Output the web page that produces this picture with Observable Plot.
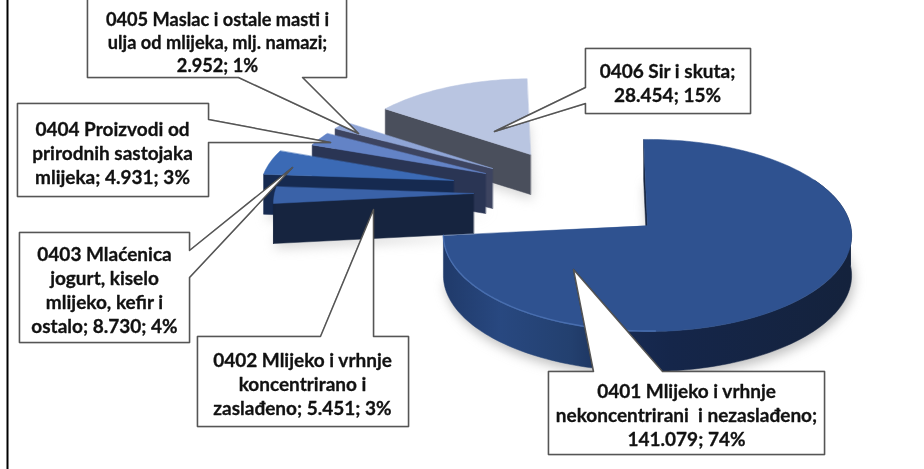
<!DOCTYPE html>
<html>
<head>
<meta charset="utf-8">
<script src="https://cdn.jsdelivr.net/npm/d3@7"></script>
<script src="https://cdn.jsdelivr.net/npm/@observablehq/plot@0.6"></script>
<style>
html,body{margin:0;padding:0;background:#fff}
svg{display:block}
</style>
</head>
<body>
<div id="chart"></div>
<script>
// data
const codes = ["0401", "0402", "0403", "0404", "0405", "0406"];
const values = [141079, 5451, 8730, 4931, 2952, 28454];
const labels = [
  "0401 Mlijeko i vrhnje\nnekoncentrirani  i nezaslađeno;\n141.079; 74%",
  "0402 Mlijeko i vrhnje\nkoncentrirano i\nzaslađeno; 5.451; 3%",
  "0403 Mlaćenica\njogurt, kiselo\nmlijeko, kefir i\nostalo; 8.730; 4%",
  "0404 Proizvodi od\nprirodnih sastojaka\nmlijeka; 4.931; 3%",
  "0405 Maslac i ostale masti i\nulja od mlijeka, mlj. namazi;\n2.952; 1%",
  "0406 Sir i skuta;\n28.454; 15%"
];

// styling and layout (not data)
const topColors = ["#2f5290", "#3a62a8", "#3b6ab5", "#6383c6", "#8fa5d6", "#b9c5e1"];
const sideColors = ["url(#rim)", "#16243f", "#162a50", "#2a3554", "#3d4460", "#4a4f5c"];
const apexes = [[647, 225], [473, 193], [453, 180], [485, 173], [492, 168], [530, 154]];
const radiiX = [1, 0.98, 0.945, 0.945, 0.94, 0.93];
const radiiY = [1, 0.98, 0.92, 0.89, 0.89, 0.88];
const startAngle = -1.2, RX = 203, RY = 95, K = 0.104, DEPTH = 40;
const rimStops = [[443, "#203a6a"], [500, "#284880"], [570, "#23406f"], [625, "#172a52"], [670, "#15264a"], [851, "#14223c"]];
const callouts = [
  {box: [548, 371, 824, 454], tail: [[593, 371], [573, 269], [662, 371]], side: "top"},
  {box: [197, 336, 408, 426], tail: [[320, 336], [373, 209], [373, 336]], side: "top"},
  {box: [19, 232, 189, 342], tail: [[189, 250], [292, 167], [189, 277]], side: "right"},
  {box: [17, 103, 208, 196], tail: [[208, 119], [330, 142], [208, 142]], side: "right"},
  {box: [87, -2, 346, 77], tail: [[302, 77], [358, 133], [238, 77]], side: "bottom"},
  {box: [585, 48, 750, 113], tail: [[585, 103], [494, 131], [585, 87]], side: "left"}
];
const textCenters = [[686, 413.5], [302, 382.5], [104, 289], [112, 151.5], [217, 41], [667, 82]];
const textSizes = [19, 19, 19, 19, 18.2, 19];

// pie geometry from the values
const total = d3.sum(values);
let acc = startAngle;
const slices = values.map((v, i) => {
  const a0 = acc, a1 = acc + v / total * 360;
  acc = a1;
  return {i, a0, a1};
});
function proj(i, deg, z = 0) {
  const t = deg * Math.PI / 180, u = Math.sin(t), w = -Math.cos(t);
  const f = 1 / (1 - K * w);
  const [ax, ay] = apexes[i];
  return [ax + u * f * RX * radiiX[i], ay + w * f * RY * radiiY[i] + z];
}
function arcPts(i, a0, a1, z) {
  const n = Math.max(2, Math.ceil(Math.abs(a1 - a0) / 1.5));
  return d3.range(n + 1).map(k => proj(i, a0 + (a1 - a0) * k / n, z));
}

const faces = [], shadows = [], highlights = [];
function addFace(rows, id, pts, fill) { pts.forEach(p => rows.push({id, x: p[0], y: p[1], fill})); }
[5, 4, 3, 2, 1, 0].forEach(i => {
  const s = slices[i], apex = apexes[i];
  const topPoly = [apex, ...arcPts(i, s.a0, s.a1, 0)];
  addFace(shadows, "s" + i, topPoly.map(p => [p[0] + 2, p[1] + DEPTH + 5]), i === 0 ? "#8a8a8a" : "#b5b5b5");
  // start-side cut wall
  addFace(faces, "w" + i, [apex, proj(i, s.a0), proj(i, s.a0, DEPTH), [apex[0], apex[1] + DEPTH]], i === 0 ? "#16243f" : sideColors[i]);
  // visible outer rim
  const lo = Math.max(s.a0, 90), hi = Math.min(s.a1, 270);
  if (hi > lo) {
    addFace(faces, "r" + i, [...arcPts(i, lo, hi, 0), ...arcPts(i, hi, lo, DEPTH)], sideColors[i]);
  }
  // outermost part of the large slice's right side
  if (i === 0) addFace(faces, "r0b", [...arcPts(0, 60, 90, 0), ...arcPts(0, 90, 60, DEPTH)], "#14223c");
  addFace(faces, "t" + i, topPoly, topColors[i]);
});
// bevel highlight along the front edge of the large slice
arcPts(0, 178, slices[0].a1, -0.5).forEach(p => highlights.push({x: p[0], y: p[1]}));

// callout outlines
const calloutRows = [];
callouts.forEach((c, i) => {
  const [l, t, r, b] = c.box;
  const tail = s => c.side === s ? c.tail : [];
  const pts = [[l, t], ...tail("top"), [r, t], ...tail("right"), [r, b], ...tail("bottom"), [l, b], ...tail("left")];
  addFace(calloutRows, codes[i], pts, "#ffffff");
});
const textRows = labels.map((text, i) => ({text, x: textCenters[i][0], y: textCenters[i][1], size: textSizes[i]}));

// horizontal shading of the rim, as an SVG gradient
function rimGradient() {
  const defs = d3.create("svg:defs");
  const g = defs.append("linearGradient").attr("id", "rim").attr("gradientUnits", "userSpaceOnUse")
    .attr("x1", rimStops[0][0]).attr("x2", rimStops[rimStops.length - 1][0]).attr("y1", 0).attr("y2", 0);
  const span = rimStops[rimStops.length - 1][0] - rimStops[0][0];
  rimStops.forEach(([x, c]) => g.append("stop").attr("offset", (x - rimStops[0][0]) / span).attr("stop-color", c));
  return defs.node();
}

const plot = Plot.plot({
  width: 924,
  height: 469,
  margin: 0,
  x: {domain: [0, 924], range: [0, 924], axis: null},
  y: {domain: [0, 469], range: [0, 469], axis: null},
  style: {background: "#fff", filter: "blur(0.35px)"},
  marks: [
    rimGradient,
    Plot.line(shadows, {x: "x", y: "y", z: "id", fill: "fill", curve: "linear-closed", fillOpacity: 0.55, imageFilter: "blur(6px)"}),
    Plot.line(faces, {x: "x", y: "y", z: "id", fill: d => d.fill, stroke: d => d.fill, strokeWidth: 0.5, curve: "linear-closed"}),
    Plot.line(highlights, {x: "x", y: "y", stroke: "#4d74b6", strokeWidth: 1.4, strokeOpacity: 0.8}),
    Plot.ruleX([7], {stroke: "#000", strokeWidth: 2}),
    Plot.line(calloutRows, {x: "x", y: "y", z: "id", fill: "#fff", stroke: "#555", strokeWidth: 1.5, curve: "linear-closed", imageFilter: "drop-shadow(0.7px 0.7px 0.7px rgba(0,0,0,.35))"}),
    Plot.text(textRows, {x: "x", y: "y", text: "text", fontFamily: "Lato", fontWeight: 700, fontSize: "size", lineHeight: 1.27, fill: "#111", stroke: "#111", strokeWidth: 0.3, textAnchor: "middle", lineAnchor: "middle"})
  ]
});
document.getElementById("chart").appendChild(plot);
</script>
</body>
</html>
